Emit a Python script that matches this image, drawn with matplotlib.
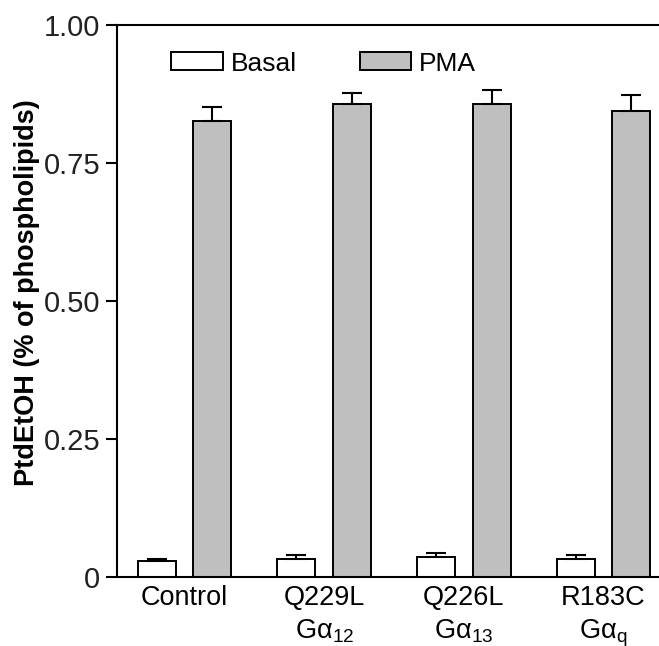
import matplotlib
matplotlib.use('Agg')
import matplotlib.pyplot as plt
import numpy as np

plt.rcParams['font.family'] = ['Liberation Sans', 'DejaVu Sans']
plt.rcParams['mathtext.fontset'] = 'custom'
plt.rcParams['mathtext.rm'] = 'Liberation Sans'
plt.rcParams['mathtext.it'] = 'Liberation Sans'

# data
groups = ['Control', 'Q229L\nG\u03b1$_{12}$', 'Q226L\nG\u03b1$_{13}$', 'R183C\nG\u03b1$_{q}$']
basal = [0.029, 0.033, 0.036, 0.033]
basal_err = [0.004, 0.007, 0.008, 0.007]
pma = [0.826, 0.856, 0.856, 0.844]
pma_err = [0.025, 0.020, 0.027, 0.029]
yticks = [0, 0.25, 0.50, 0.75, 1.00]
ytick_labels = ['0', '0.25', '0.50', '0.75', '1.00']

fig = plt.figure(figsize=(6.59, 6.46), dpi=100)
ax = fig.add_axes([0.1775, 0.1068, 0.8225, 0.8545])

x = np.arange(len(groups))
w = 0.272
off = 0.2
err_kw = dict(ecolor='black', elinewidth=1.5, capsize=7.5, capthick=1.5)

ax.bar(x - off, basal, w, yerr=[np.zeros(4), basal_err], color='white',
       edgecolor='black', linewidth=1.4, error_kw=err_kw, label='Basal')
ax.bar(x + off, pma, w, yerr=[np.zeros(4), pma_err], color='#bfbfbf',
       edgecolor='black', linewidth=1.4, error_kw=err_kw, label='PMA')

ax.set_xlim(-0.483, 3.397)
ax.set_ylim(0, 1.0)
ax.set_yticks(yticks)
ax.set_yticklabels(ytick_labels, fontsize=21, color='#222222')
ax.set_xticks(x)
ax.set_xticklabels(groups, fontsize=19.5, linespacing=1.3)
ax.tick_params(axis='x', length=0, pad=6)
ax.tick_params(axis='y', direction='out', length=8, width=1.5, pad=4)

ax.spines['right'].set_visible(False)
for s in ['left', 'top', 'bottom']:
    ax.spines[s].set_linewidth(1.5)

ax.set_ylabel('PtdEtOH (% of phospholipids)', fontsize=19.5, fontweight='bold')
ax.yaxis.set_label_coords(-0.142, 0.515)

leg = ax.legend(loc='upper left', bbox_to_anchor=(0.056, 0.995), ncol=2, frameon=False,
                fontsize=19, handlelength=1.95, handleheight=0.65, handletextpad=0.3,
                columnspacing=2.4)

fig.savefig('out.png', dpi=100)
